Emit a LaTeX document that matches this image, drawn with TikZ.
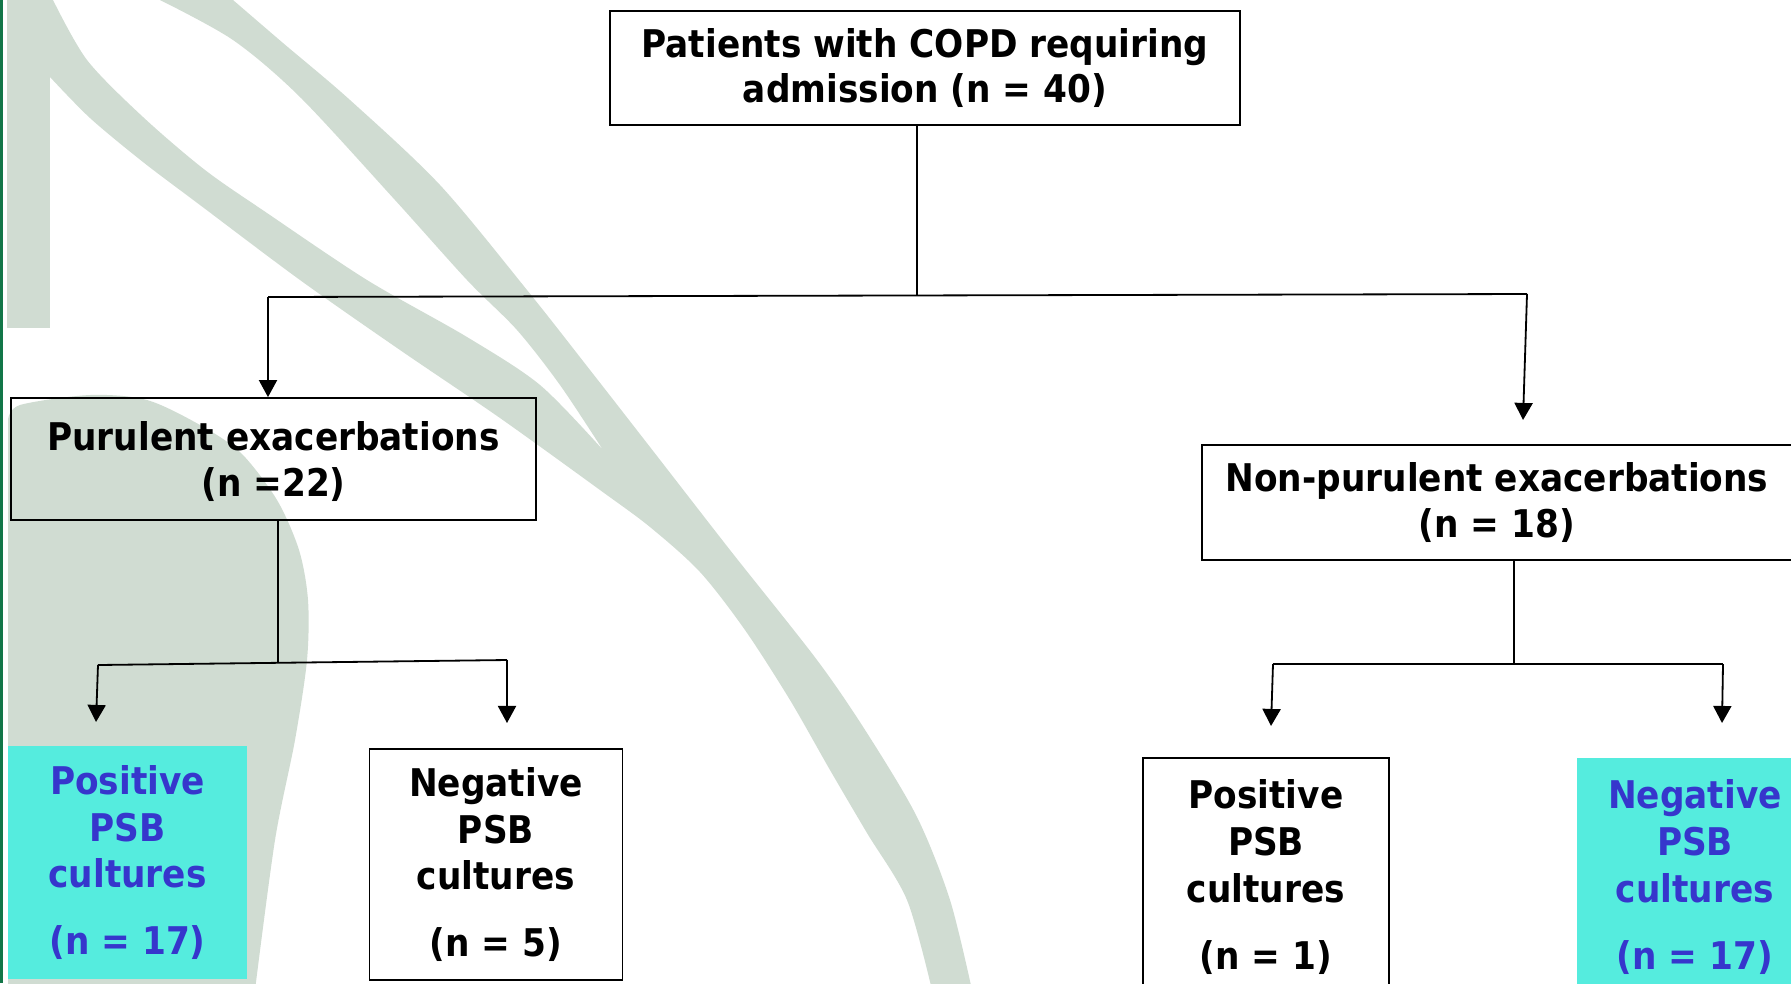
\documentclass[tikz,border=0pt]{standalone}
\usepackage{fontspec}
\setmainfont{DejaVu Sans Condensed}
\usepackage{tikz}
\usetikzlibrary{arrows.meta}
\definecolor{wm}{RGB}{208,220,210}
\definecolor{cyanbox}{RGB}{85,236,222}
\definecolor{bluetxt}{RGB}{54,54,204}
\definecolor{edgegreen}{RGB}{18,118,72}

\begin{document}
\begin{tikzpicture}[x=0.0175cm,y=-0.0175cm,line width=0.9pt,
		font=\fontsize{19}{22.5}\selectfont\bfseries,
		box/.style={draw,align=center,inner sep=0pt},
		cbox/.style={fill=cyanbox,text=bluetxt,align=center,inner sep=0pt},
		psb/.style={font=\fontsize{19}{23.3}\selectfont\bfseries},
		arr/.style={-{Triangle[length=8.5pt,width=9pt]}}]
		\useasboundingbox (0,0) rectangle (1791,983);
		\clip (0,0) rectangle (1791,983);
		\fill[white] (0,0) rectangle (1791,983);
		% watermark
		\fill[wm] (7,0) rectangle (50,328);
		\fill[wm] plot[smooth] coordinates {(53,0) (87,60) (143,117) (205,170) (267,213) (367,280) (467,337) (540,385) (603,450)}
			-- plot[smooth] coordinates {(603,450) (560,385) (517,330) (467,280) (395,200) (300,97) (233,40) (160,0)}
			-- plot[smooth] coordinates {(233,0) (283,43) (350,100) (440,185) (527,290) (590,370) (650,447) (730,550) (817,660) (867,733) (917,817) (950,900) (972,990)}
			-- plot[smooth] coordinates {(932,990) (907,900) (867,833) (830,770) (790,700) (745,630) (700,572) (650,527) (600,490) (500,418) (400,350) (300,280) (200,205) (143,162) (90,118) (50,77)}
			-- (50,0) -- cycle;
		\fill[wm] plot[smooth] coordinates {(8,420) (20,405) (90,395) (147,400) (200,425) (241,453) (277,500) (299,550) (308,600) (307,660) (295,740) (275,840) (255,990)}
			-- (8,990) -- cycle;
		\fill[edgegreen] (0,0) rectangle (3,983);
		% boxes
		\node[box,minimum width=11.025cm,minimum height=1.995cm] (adm) at (925,68) {Patients with COPD requiring\\admission (n = 40)};
		\node[box,minimum width=9.1875cm,minimum height=2.135cm,text depth=0pt] (pur) at (273.5,459) {Purulent exacerbations\\(n =22)};
		\node[box,minimum width=10.325cm,minimum height=2.0125cm] (npur) at (1497,502.5) {Non-purulent exacerbations\\(n = 18)};
		\node[cbox,psb,minimum width=4.1825cm,minimum height=4.0775cm] (pospur) at (127.5,862.5) {Positive\\PSB\\cultures\\[10pt](n = 17)};
		\node[box,psb,minimum width=4.4275cm,minimum height=4.0425cm] (negpur) at (496,864.5) {Negative\\PSB\\cultures\\[10pt](n = 5)};
		\node[box,psb,minimum width=4.305cm,minimum height=4.165cm] (posnp) at (1266,877) {Positive\\PSB\\cultures\\[10pt](n = 1)};
		\node[cbox,psb,minimum width=4.13cm,minimum height=4.165cm] (negnp) at (1695,877) {Negative\\PSB\\cultures\\[10pt](n = 17)};
		% connectors
		\coordinate (j0) at (917,296);
		\coordinate (jl) at (268,297);
		\coordinate (jr) at (1527,294);
		\coordinate (ar) at (1523,420);
		\draw (adm.south -| j0) -- (j0);
		\draw (jl) -- (jr);
		\draw[arr] (jl) -- (jl |- pur.north);
		\draw[arr] (jr) -- (ar);
		\coordinate (j1) at (278,663);
		\coordinate (jl1) at (98,665);
		\coordinate (jr1) at (507,660);
		\coordinate (a1) at (96,722);
		\coordinate (a2) at (507,723);
		\draw (pur.south -| j1) -- (j1);
		\draw (jl1) -- (jr1);
		\draw[arr] (jl1) -- (a1);
		\draw[arr] (jr1) -- (a2);
		\coordinate (j2) at (1514,664);
		\coordinate (jl2) at (1273,664);
		\coordinate (jr2) at (1723,664);
		\coordinate (a3) at (1271,726);
		\coordinate (a4) at (1722,723);
		\draw (npur.south -| j2) -- (j2);
		\draw (jl2) -- (jr2);
		\draw[arr] (jl2) -- (a3);
		\draw[arr] (jr2) -- (a4);
\end{tikzpicture}
\end{document}
